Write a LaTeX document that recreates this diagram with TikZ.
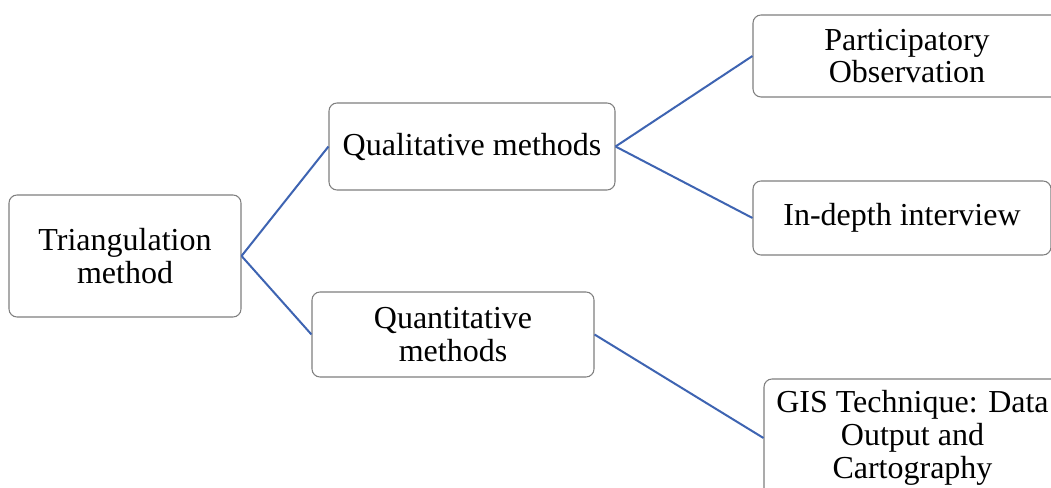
\documentclass[tikz,border=0pt]{standalone}
\usepackage{fontspec}
\setmainfont{Liberation Serif}
\definecolor{linkblue}{HTML}{3E64B2}
\definecolor{boxgray}{HTML}{7F7F7F}

\begin{document}
\begin{tikzpicture}[x=0.75pt,y=-0.75pt,
	box/.style={draw=boxgray, line width=0.8pt, rounded corners=6pt, fill=white,
		align=center, inner sep=0pt, font=\fontsize{24}{24.5}\selectfont},
	link/.style={draw=linkblue, line width=1.5pt}]
		\clip (0,0) rectangle (1051,488);
		\fill[white] (0,0) rectangle (1051,488);
		
		\node[box, minimum width=232*0.75pt, minimum height=122*0.75pt] at (125,256) (tri) {Triangulation\\method};
		\node[box, minimum width=286*0.75pt, minimum height=87*0.75pt] at (472,146.5) (qual) {Qualitative methods};
		\node[box, minimum width=282*0.75pt, minimum height=85*0.75pt] at (453,334.5) (quant) {Quantitative\\methods};
		
		\node[box, minimum width=308*0.75pt, minimum height=82*0.75pt] at (907,56) (part) {Participatory\\Observation};
		\node[box, minimum width=298*0.75pt, minimum height=74*0.75pt] at (902,218) (inter) {In-depth interview};
		\node[box, minimum width=297*0.75pt, minimum height=118*0.75pt] at (912.5,438) (gis) {GIS Technique: Data\\Output and\\Cartography};
		
		\draw[link] (tri.east) -- (qual.west);
		\draw[link] (tri.east) -- (quant.west);
		\draw[link] (qual.east) -- (part.west);
		\draw[link] (qual.east) -- (inter.west);
		\draw[link] (quant.east) -- (gis.west);
	\end{tikzpicture}
\end{document}
